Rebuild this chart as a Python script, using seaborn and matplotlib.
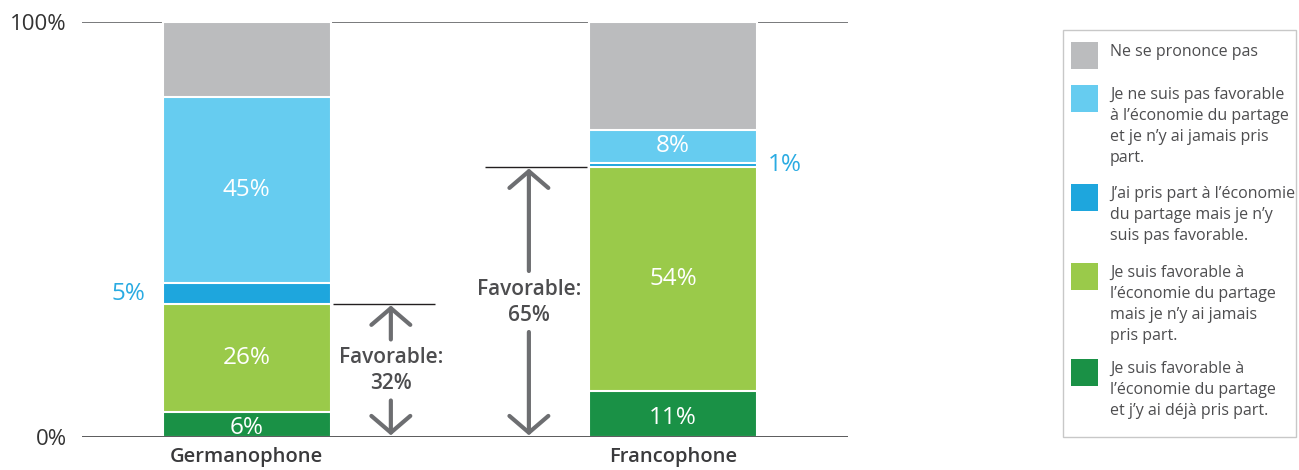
import matplotlib
matplotlib.use("Agg")
import matplotlib.pyplot as plt
from matplotlib.patches import Rectangle
import seaborn as sns
import numpy as np

# ---- data ----
categories = ["Germanophone", "Francophone"]
series_names = [
    "Je suis favorable à\nl’économie du partage\net j’y ai déjà pris part.",
    "Je suis favorable à\nl’économie du partage\nmais je n’y ai jamais\npris part.",
    "J’ai pris part à l’économie\ndu partage mais je n’y\nsuis pas favorable.",
    "Je ne suis pas favorable\nà l’économie du partage\net je n’y ai jamais pris\npart.",
    "Ne se prononce pas",
]
fav_deja = [6, 11]
fav_jamais = [26, 54]
pris_nonfav = [5, 1]
nonfav_jamais = [45, 8]
ne_sait_pas = [18, 26]
favorable_total = [32, 65]

colors = ["#1A9146", "#9ACA4A", "#1EA6DD", "#66CCF0", "#BBBCBE"]

series = [fav_deja, fav_jamais, pris_nonfav, nonfav_jamais, ne_sait_pas]
cum = np.cumsum(np.array(series, dtype=float), axis=0)

sns.set_theme(style="white")
plt.rcParams["font.family"] = ["Open Sans", "DejaVu Sans"]

W, H = 1299, 470
fig = plt.figure(figsize=(W / 100, H / 100), dpi=100)
ax = fig.add_axes([0.0631, 0.0702, 0.5897, 0.8830])

bar_w = 0.394
for i in range(len(series) - 1, -1, -1):
    sns.barplot(x=categories, y=cum[i], color=colors[i], width=bar_w,
                edgecolor="white", linewidth=1.5, saturation=1, ax=ax, zorder=2)

# segment labels
for j in range(len(categories)):
    for i in range(4):
        v = series[i][j]
        lo = cum[i][j] - v
        mid = lo + v / 2
        txt = f"{v}%"
        if v >= 6:
            ax.text(j, mid - (0.8 if i == 0 else 0), txt, ha="center", va="center",
                    color="white", fontsize=17.5, zorder=5)
        elif j == 0:
            ax.text(j - bar_w / 2 - 0.042, mid, txt, ha="right", va="center",
                    color="#2AABE2", fontsize=17.5, zorder=5)
        else:
            ax.text(j + bar_w / 2 + 0.026, mid, txt, ha="left", va="center",
                    color="#2AABE2", fontsize=17.5, zorder=5)

# favorable annotations
arrow_col = "#6D6E71"
for j, tot in enumerate(favorable_total):
    side = 1 if j == 0 else -1
    xa = j + side * 0.338
    x0 = j + side * (bar_w / 2 + 0.005)
    x1 = j + side * (bar_w / 2 + 0.244)
    ax.plot([x0, x1], [tot, tot], color="#231F20", lw=1.0, zorder=4, solid_capstyle="butt")
    mid = tot / 2
    ax.text(xa, mid, f"Favorable:\n{tot}%", ha="center", va="center",
            fontsize=15, color="#4D4D4F", linespacing=1.3, zorder=5, fontweight="semibold")
    style = "->,head_length=0.6,head_width=0.7"
    ax.annotate("", xy=(xa, tot - 0.3), xytext=(xa, mid + 7.5),
                arrowprops=dict(arrowstyle=style, lw=3, color=arrow_col,
                                mutation_scale=20, shrinkA=0, shrinkB=0), zorder=4)
    ax.annotate("", xy=(xa, 0.4), xytext=(xa, mid - 7.2),
                arrowprops=dict(arrowstyle=style, lw=3, color=arrow_col,
                                mutation_scale=20, shrinkA=0, shrinkB=0), zorder=4)

# axes styling
ax.set_xlim(-0.387, 1.411)
ax.set_ylim(0, 100)
for s in ax.spines.values():
    s.set_visible(False)
ax.axhline(0, color="#4D4D4F", lw=1.3, zorder=6)
ax.axhline(100, color="#6D6E71", lw=1.3, zorder=1)
ax.set_yticks([0, 100])
ax.set_yticklabels(["0%", "100%"], fontsize=16, color="#333333")
ax.tick_params(axis="y", length=0, pad=11)
ax.tick_params(axis="x", length=0, pad=7)
for lab in ax.get_xticklabels():
    lab.set_fontsize(14.5)
    lab.set_color("#3A3A3C")
    lab.set_fontweight("semibold")
ax.set_xlabel("")
ax.set_ylabel("")
ax.grid(False)

# manual legend (top to bottom: grey ... dark green)
def fx(px):
    return px / W

def fy(py):
    return 1 - py / H

fig.patches.append(Rectangle((fx(1063), fy(437)), fx(1296) - fx(1063), fy(30) - fy(437),
                             transform=fig.transFigure, facecolor="white",
                             edgecolor="#C8C8C8", lw=1.0, zorder=0))
patch_tops = [42, 85, 184, 263, 359]
for k, i in enumerate(range(4, -1, -1)):
    top = patch_tops[k]
    fig.patches.append(Rectangle((fx(1071), fy(top + 27)), fx(1098) - fx(1071), 27 / H,
                                 transform=fig.transFigure, facecolor=colors[i],
                                 edgecolor="none", zorder=1))
    fig.text(fx(1110), fy(top + 2), series_names[i], ha="left", va="top",
             fontsize=11.5, color="#4D4D4F", linespacing=1.42)

fig.savefig("out.png", dpi=100)
